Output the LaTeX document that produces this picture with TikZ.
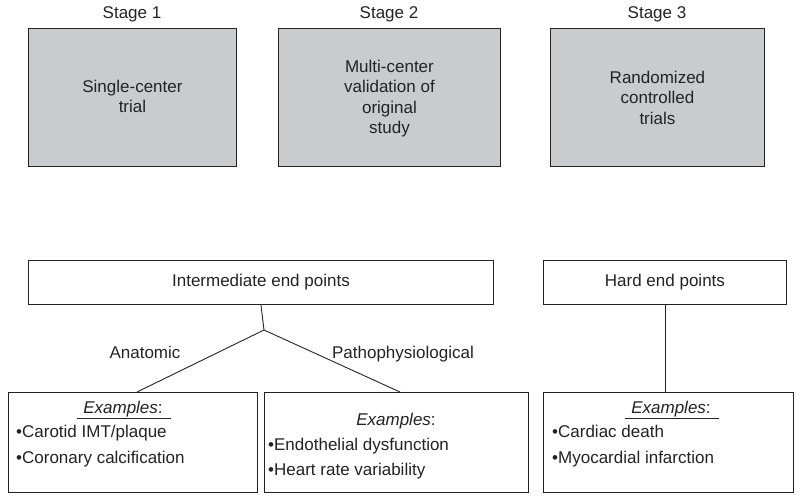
\documentclass[tikz,border=0pt]{standalone}
\usepackage{fontspec}
\setmainfont{Liberation Sans}
\definecolor{boxgray}{RGB}{202,203,205}
\definecolor{ink}{RGB}{35,35,35}
\begin{document}
\begin{tikzpicture}[x=1pt,y=-1pt,
  font=\fontsize{17}{20.5}\selectfont, text=ink,
  stagebox/.style={draw=ink, line width=0.9pt, fill=boxgray, rectangle, inner sep=0pt, anchor=north west, minimum height=138pt},
  whitebox/.style={draw=ink, line width=0.9pt, fill=white, rectangle, inner sep=0pt, anchor=north west},
  txt/.style={inner sep=0pt, align=center},
  bul/.style={inner sep=0pt, anchor=base west},
  conn/.style={draw=ink, line width=0.9pt}]
\useasboundingbox (0,0) rectangle (800,500);
% stage boxes
\node[stagebox, minimum width=208pt] (s1) at (28,28) {};
\node[stagebox, minimum width=222pt] (s2) at (278,28) {};
\node[stagebox, minimum width=214pt] (s3) at (550,28) {};
\node[txt, anchor=base] (l1) at (132,19) {Stage 1};
\node[txt, anchor=base] (l2) at (389,19) {Stage 2};
\node[txt, anchor=base] (l3) at (657,19) {Stage 3};
\node[txt] (t1) at ([yshift=1pt]s1.center) {Single-center\\trial};
\node[txt] (t2) at ([yshift=-1pt]s2.center) {Multi-center\\validation of\\original\\study};
\node[txt] (t3) at ([yshift=0pt]s3.center) {Randomized\\controlled\\trials};
% end point boxes
\node[whitebox, minimum width=465pt, minimum height=44pt] (ie) at (28,260) {};
\node[txt] at (ie.center) {Intermediate end points};
\node[whitebox, minimum width=243pt, minimum height=44pt] (he) at (543,260) {};
\node[txt] at (he.center) {Hard end points};
% example boxes
\node[whitebox, minimum width=249pt, minimum height=100pt] (e1) at (8,392) {};
\node[whitebox, minimum width=264pt, minimum height=100pt] (e2) at (264,392) {};
\node[whitebox, minimum width=250pt, minimum height=100pt] (e3) at (543,392) {};
% connectors
\coordinate (j) at (264,330);
\draw[conn] (ie.south) -- (j);
\draw[conn] (j) -- ([xshift=129pt]e1.north west);
\draw[conn] (j) -- ([xshift=136pt]e2.north west);
\draw[conn] (he.south) -- (he.south |- e3.north);
\node[txt, anchor=base] (an) at (145,358) {Anatomic};
\node[txt, anchor=base] (pa) at (403,358) {Pathophysiological};
% example texts
\node[txt, anchor=base] (x1) at (124,413) {\underline{\hspace{6pt}\textit{Examples}:\hspace{8pt}}};
\node[bul] (b11) at (16,437) {\textbullet Carotid IMT/plaque};
\node[bul] (b12) at (16,463) {\textbullet Coronary calcification};
\node[txt, anchor=base] (x2) at (396,425) {\textit{Examples}:};
\node[bul] (b21) at (268,450) {\textbullet Endothelial dysfunction};
\node[bul] (b22) at (268,475) {\textbullet Heart rate variability};
\node[txt, anchor=base] (x3) at (672,413) {\underline{\hspace{6pt}\textit{Examples}:\hspace{8pt}}};
\node[bul] (b31) at (552,437) {\textbullet Cardiac death};
\node[bul] (b32) at (552,463) {\textbullet Myocardial infarction};
\end{tikzpicture}
\end{document}
